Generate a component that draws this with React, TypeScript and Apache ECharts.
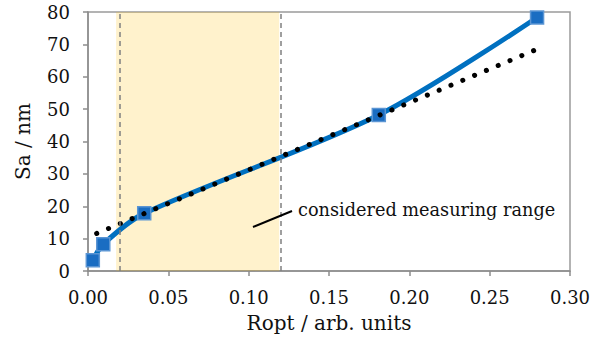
import React, { useEffect, useRef } from "react";
import * as echarts from "echarts";

const xTicks = [0, 0.05, 0.1, 0.15, 0.2, 0.25, 0.3];
const yTicks = [0, 10, 20, 30, 40, 50, 60, 70, 80];
const measuredX = [0.003, 0.0095, 0.035, 0.181, 0.2795];
const measuredY = [3.3, 8.3, 17.8, 48.2, 78.3];
const trendX = [0.0054, 0.2785];
const trendY = [11.6, 68.3];
const rangeStart = 0.0175;
const rangeEnd = 0.119;
const annotation = "considered measuring range";

export default function App() {
  const ref = useRef<HTMLDivElement>(null);
  useEffect(() => {
    if (!ref.current) return;
    const chart = echarts.init(ref.current, undefined, { renderer: "svg" });
    const font = "DejaVu Serif";
    chart.setOption({
      animation: false,
      grid: {
        left: 88,
        right: 40,
        top: 12,
        bottom: 70,
        show: true,
        borderColor: "#9a9a9a",
        borderWidth: 1.5,
      },
      xAxis: {
        type: "value",
        min: xTicks[0],
        max: xTicks[xTicks.length - 1],
        interval: 0.05,
        name: "Ropt / arb. units",
        nameLocation: "middle",
        nameGap: 42,
        nameTextStyle: { fontFamily: font, fontSize: 20, color: "#111" },
        axisLine: { lineStyle: { color: "#8c8c8c", width: 1.5 } },
        axisTick: { show: true, length: 5, lineStyle: { color: "#8c8c8c", width: 1.5 } },
        axisLabel: {
          margin: 17,
          fontFamily: font,
          fontSize: 18,
          color: "#111",
          formatter: (v: number) => v.toFixed(2),
        },
        splitLine: { show: false },
      },
      yAxis: {
        type: "value",
        min: yTicks[0],
        max: yTicks[yTicks.length - 1],
        interval: 10,
        name: "Sa / nm",
        nameLocation: "middle",
        nameGap: 55,
        nameRotate: 90,
        nameTextStyle: { fontFamily: font, fontSize: 20, color: "#111" },
        axisLine: { show: true, lineStyle: { color: "#8c8c8c", width: 1.5 } },
        axisTick: { show: true, length: 5, lineStyle: { color: "#8c8c8c", width: 1.5 } },
        axisLabel: { margin: 18, fontFamily: font, fontSize: 18, color: "#111" },
        splitLine: { show: false },
      },
      series: [
        {
          name: "measured",
          type: "line",
          z: 2,
          smooth: 0.3,
          data: measuredX.map((x, i) => [x, measuredY[i]]),
          symbol: "rect",
          symbolSize: 13,
          lineStyle: { color: "#0070C0", width: 5 },
          itemStyle: { color: "#1a6dc2", borderColor: "#5b95d3", borderWidth: 1.5 },
        },
        {
          name: "trend",
          type: "line",
          z: 3,
          data: trendX.map((x, i) => [x, trendY[i]]),
          symbol: "none",
          lineStyle: { color: "#000", width: 5, type: [0.1, 12.7], cap: "round" },
        },
        {
          name: "range",
          type: "line",
          z: 10,
          data: [],
          markArea: {
            silent: true,
            itemStyle: { color: "rgba(255,192,0,0.2)" },
            data: [[{ xAxis: rangeStart }, { xAxis: rangeEnd }]],
          },
          markLine: {
            silent: true,
            symbol: "none",
            label: { show: false },
            lineStyle: { color: "#808080", width: 1.5, type: [5, 4] },
            data: [{ xAxis: rangeStart }, { xAxis: rangeEnd }],
          },
        },
      ],
      graphic: [
        {
          type: "line",
          shape: { x1: 253, y1: 227, x2: 292, y2: 211 },
          style: { stroke: "#000", lineWidth: 2 },
          z: 10,
        },
        {
          type: "text",
          x: 298,
          y: 210,
          style: {
            text: annotation,
            fontFamily: font,
            fontSize: 17.7,
            fill: "#111",
            verticalAlign: "middle",
          },
          z: 10,
        },
      ],
    });
    return () => chart.dispose();
  }, []);
  return <div ref={ref} style={{ width: 610, height: 341, position: "absolute", left: 0, top: 0 }} />;
}
